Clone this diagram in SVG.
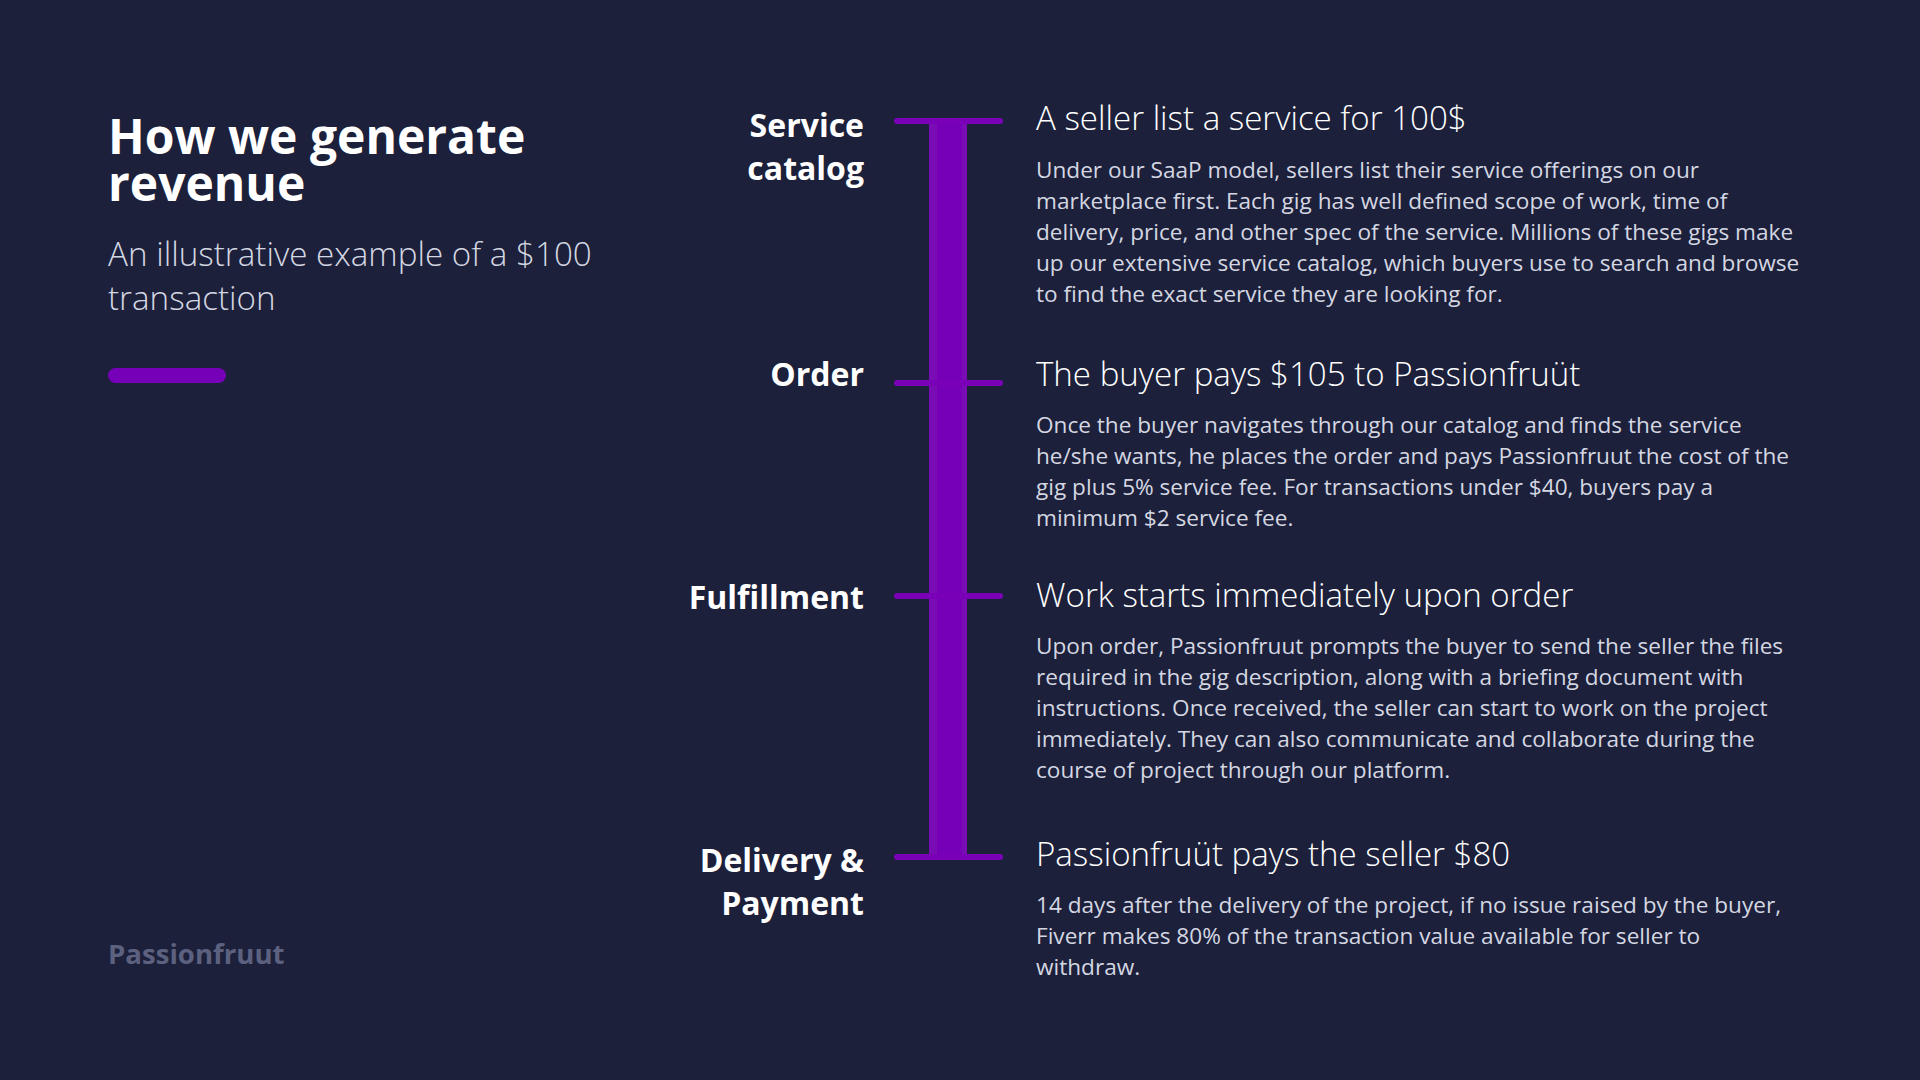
<svg xmlns="http://www.w3.org/2000/svg" width="1920" height="1080" viewBox="0 0 1920 1080">
<style>
.title{font-family:"Open Sans","Liberation Sans",sans-serif;font-weight:700;font-size:48px;fill:#ffffff}
.sub{font-family:"Open Sans","Liberation Sans",sans-serif;font-weight:300;font-size:33.2px;fill:#d4d7e2}
.label{font-family:"Open Sans","Liberation Sans",sans-serif;font-weight:700;font-size:32px;fill:#ffffff;text-anchor:end}
.head{font-family:"Open Sans","Liberation Sans",sans-serif;font-weight:300;font-size:33.1px;fill:#ffffff}
.body{font-family:"Open Sans","Liberation Sans",sans-serif;font-weight:400;font-size:22.6px;fill:#d4d7e2}
.brand{font-family:"Open Sans","Liberation Sans",sans-serif;font-weight:700;font-size:27.6px;fill:#5c6180}
.tick{stroke:#7a00b8;stroke-width:6;stroke-linecap:round}
</style>
<rect x="0" y="0" width="1920" height="1080" fill="#1c203a"/>
<g id="header">
<text class="title" x="108" y="154">How we generate</text>
<text class="title" x="108" y="201">revenue</text>
<text class="sub" x="108" y="266">An illustrative example of a $100</text>
<text class="sub" x="108" y="310">transaction</text>
<rect x="108" y="368" width="118" height="15" rx="7.5" fill="#7600b8"/>
</g>
<g id="connectors">
<rect x="929" y="121" width="38" height="736" fill="#7a0cb6"/>
<rect x="937" y="121" width="25" height="736" fill="#7600b8"/>
<line class="tick" x1="897" y1="121" x2="1000" y2="121"/>
<line class="tick" x1="897" y1="383" x2="1000" y2="383"/>
<line class="tick" x1="897" y1="596" x2="1000" y2="596"/>
<line class="tick" x1="897" y1="857" x2="1000" y2="857"/>
</g>
<g id="step-service-catalog">
<text class="label" x="864" y="137">Service</text>
<text class="label" x="864" y="180">catalog</text>
<text class="head" x="1036" y="130">A seller list a service for 100$</text>
<text class="body" x="1036" y="178">Under our SaaP model, sellers list their service offerings on our</text>
<text class="body" x="1036" y="209">marketplace first. Each gig has well defined scope of work, time of</text>
<text class="body" x="1036" y="240">delivery, price, and other spec of the service. Millions of these gigs make</text>
<text class="body" x="1036" y="271">up our extensive service catalog, which buyers use to search and browse</text>
<text class="body" x="1036" y="302">to find the exact service they are looking for.</text>
</g>
<g id="step-order">
<text class="label" x="864" y="386">Order</text>
<text class="head" x="1036" y="386">The buyer pays $105 to Passionfruüt</text>
<text class="body" x="1036" y="433">Once the buyer navigates through our catalog and finds the service</text>
<text class="body" x="1036" y="464">he/she wants, he places the order and pays Passionfruut the cost of the</text>
<text class="body" x="1036" y="495">gig plus 5% service fee. For transactions under $40, buyers pay a</text>
<text class="body" x="1036" y="526">minimum $2 service fee.</text>
</g>
<g id="step-fulfillment">
<text class="label" x="864" y="609">Fulfillment</text>
<text class="head" x="1036" y="607">Work starts immediately upon order</text>
<text class="body" x="1036" y="654">Upon order, Passionfruut prompts the buyer to send the seller the files</text>
<text class="body" x="1036" y="685">required in the gig description, along with a briefing document with</text>
<text class="body" x="1036" y="716">instructions. Once received, the seller can start to work on the project</text>
<text class="body" x="1036" y="747">immediately. They can also communicate and collaborate during the</text>
<text class="body" x="1036" y="778">course of project through our platform.</text>
</g>
<g id="step-delivery-payment">
<text class="label" x="864" y="872">Delivery &amp;</text>
<text class="label" x="864" y="915">Payment</text>
<text class="head" x="1036" y="866">Passionfruüt pays the seller $80</text>
<text class="body" x="1036" y="913">14 days after the delivery of the project, if no issue raised by the buyer,</text>
<text class="body" x="1036" y="944">Fiverr makes 80% of the transaction value available for seller to</text>
<text class="body" x="1036" y="975">withdraw.</text>
</g>
<g id="footer">
<text class="brand" x="108" y="964">Passionfruut</text>
</g>
</svg>
